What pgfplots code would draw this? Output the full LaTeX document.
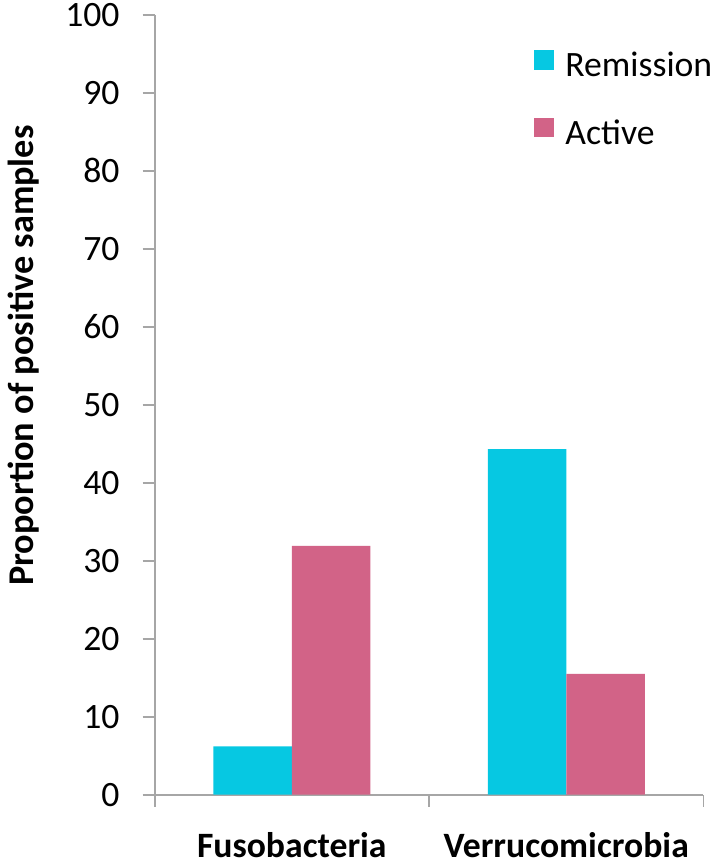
\documentclass[border=0pt]{standalone}
\usepackage{fontspec}
\setmainfont{Carlito}
\usepackage{pgfplots}
\pgfplotsset{compat=1.18}
\definecolor{remission}{HTML}{06C8E2}
\definecolor{active}{HTML}{D26387}
\definecolor{axisgray}{HTML}{A6A6A6}

\begin{document}
\begin{tikzpicture}
\path[use as bounding box] (-78pt,-35.5pt) rectangle (285pt,401pt);
\begin{axis}[
    scale only axis,
    width=277pt, height=393.5pt,
    at={(0,0)}, anchor=south west,
    ybar=0pt, bar width=0.286,
    xmin=-0.5, xmax=1.5, ymin=0, ymax=100,
    axis lines*=left,
    axis line style={axisgray, line width=1pt},
    tick align=outside,
    tick style={axisgray, line width=1pt},
    major tick length=6pt,
    xtick={-0.5,0.5,1.5}, xticklabels={},
    extra x ticks={0,1},
    extra x tick labels={Fusobacteria,Verrucomicrobia},
    extra x tick style={major tick length=0pt,
        tick label style={font=\fontsize{18}{21}\selectfont\bfseries,
            anchor=north, inner sep=0pt, yshift=-19pt}},
    ytick distance=10,
    yticklabel style={anchor=east, inner sep=0pt, xshift=-11.5pt},
    tick label style={font=\fontsize{18}{21}\selectfont},
    /pgf/number format/assume math mode=true,
    ylabel={Proportion of positive samples},
    ylabel style={font=\fontsize{18.3}{21}\selectfont\bfseries,
        at={(axis description cs:-0.238,0.563)}, anchor=center},
    legend style={draw=none, fill=none,
        at={(axis description cs:0.69,0.955)}, anchor=north west,
        inner sep=0pt, row sep=19pt,
        font=\fontsize{18}{21}\selectfont,
        nodes={inner sep=0pt},
        /tikz/every odd column/.style={column sep=6pt}},
    legend cell align=left,
    legend image code/.code={\fill[#1] (0pt,-2pt) rectangle (10pt,8pt);},
]
\addplot[fill=remission, draw=none] coordinates {(0,6.2) (1,44.3)};
\addlegendentry{Remission}
\addplot[fill=active, draw=none] coordinates {(0,31.9) (1,15.5)};
\addlegendentry{Active}
\end{axis}
\end{tikzpicture}
\end{document}
